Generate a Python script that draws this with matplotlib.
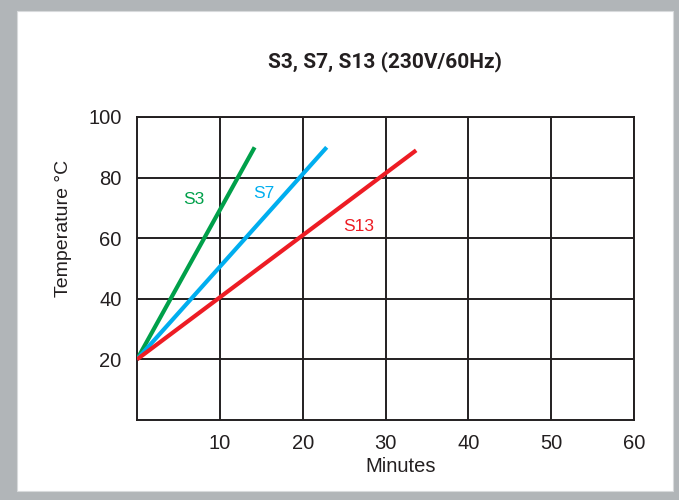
import matplotlib
matplotlib.use("Agg")
import matplotlib.pyplot as plt
from matplotlib.patches import Rectangle

# data: each heater line goes from 20 C at t=0 to the end point
series = ["S3", "S7", "S13"]
minutes = [[0, 14.2], [0, 22.9], [0, 33.7]]
temps = [[20, 90], [20, 90], [20, 89]]
colors = ["#00a04a", "#00aeef", "#ed1c24"]
label_pos = [(6.8, 72.8), (15.3, 74.7), (26.8, 63.8)]

x_ticks = [10, 20, 30, 40, 50, 60]
y_ticks = [20, 40, 60, 80, 100]

plt.rcParams['font.family'] = ['Liberation Sans', 'DejaVu Sans']

fig = plt.figure(figsize=(6.79, 5.0), dpi=100)
fig.patch.set_facecolor("#b1b5b8")
# white panel inside the grey frame
fig.patches.append(Rectangle((17 / 679, 9 / 500), 656 / 679, 480 / 500,
                             transform=fig.transFigure, facecolor="white",
                             edgecolor="#d8dadc", linewidth=0.8, zorder=-10))

ax = fig.add_axes([137 / 679, 80 / 500, 497 / 679, 303 / 500])
ax.set_facecolor("white")

for name, xs, ys, c, (lx, ly) in zip(series, minutes, temps, colors, label_pos):
    ax.plot(xs, ys, color=c, linewidth=3, solid_capstyle="butt", zorder=3)
    ax.text(lx, ly, name, color=c, fontsize=12.5, ha="center", va="center", zorder=4)

ax.set_xlim(0, 60)
ax.set_ylim(0, 100)
ax.set_xticks(x_ticks)
ax.set_yticks(y_ticks)
ax.grid(True, color="#231f20", linewidth=1.4)
ax.set_axisbelow(True)
for s in ax.spines.values():
    s.set_color("#231f20")
    s.set_linewidth(1.4)
ax.tick_params(axis="both", length=0, labelsize=14.5, colors="#231f20")
ax.tick_params(axis="y", pad=11)
ax.tick_params(axis="x", pad=10)

fig.text(63 / 679, (500 - 228) / 500, "Temperature °C", rotation=90,
         ha="center", va="center", fontsize=14, color="#231f20")
fig.text(401 / 679, (500 - 466) / 500, "Minutes", ha="center", va="center",
         fontsize=14.5, color="#231f20")
fig.text(385 / 679, (500 - 62) / 500, "S3, S7, S13 (230V/60Hz)", ha="center",
         va="center", fontsize=15, fontweight="bold", color="#231f20",
         family=['Roboto', 'DejaVu Sans'])

fig.savefig("out.png", dpi=100, facecolor=fig.get_facecolor())
